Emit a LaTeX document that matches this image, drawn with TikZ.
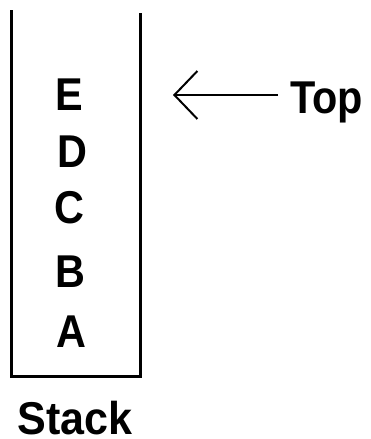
\documentclass[tikz,border=0pt]{standalone}
\usepackage{fontspec}
\setmainfont{Liberation Sans}[FakeStretch=0.9]
\usetikzlibrary{arrows.meta}
\begin{document}
\begin{tikzpicture}[x=1pt,y=-1pt,
  wall/.style={line width=3pt},
  lbl/.style={font=\fontsize{46}{50}\selectfont\bfseries, inner sep=0pt, anchor=base},
  arr/.style={line width=2.4pt, -{Straight Barb[length=23pt, width=48pt, line width=2pt]}}]
\useasboundingbox[fill=white] (0,0) rectangle (370,439);
% stack container
\draw[wall] (11,10) -- (11,376) -- (140,376) -- (140,13);
% items
\node[lbl] (e) at (69,110) {E};
\node[lbl] (d) at (72,167) {D};
\node[lbl] (c) at (69,223) {C};
\node[lbl] (b) at (70,287) {B};
\node[lbl] (a) at (71,347) {A};
% labels
\node[lbl, anchor=base west] (top) at (290,113) {Top};
\node[lbl, xscale=1.04] (stack) at (75,434) {Stack};
% pointer
\coordinate (tip) at (173,95);
\draw[arr, shorten <=12pt] (top.west |- tip) -- (tip);
\end{tikzpicture}
\end{document}
